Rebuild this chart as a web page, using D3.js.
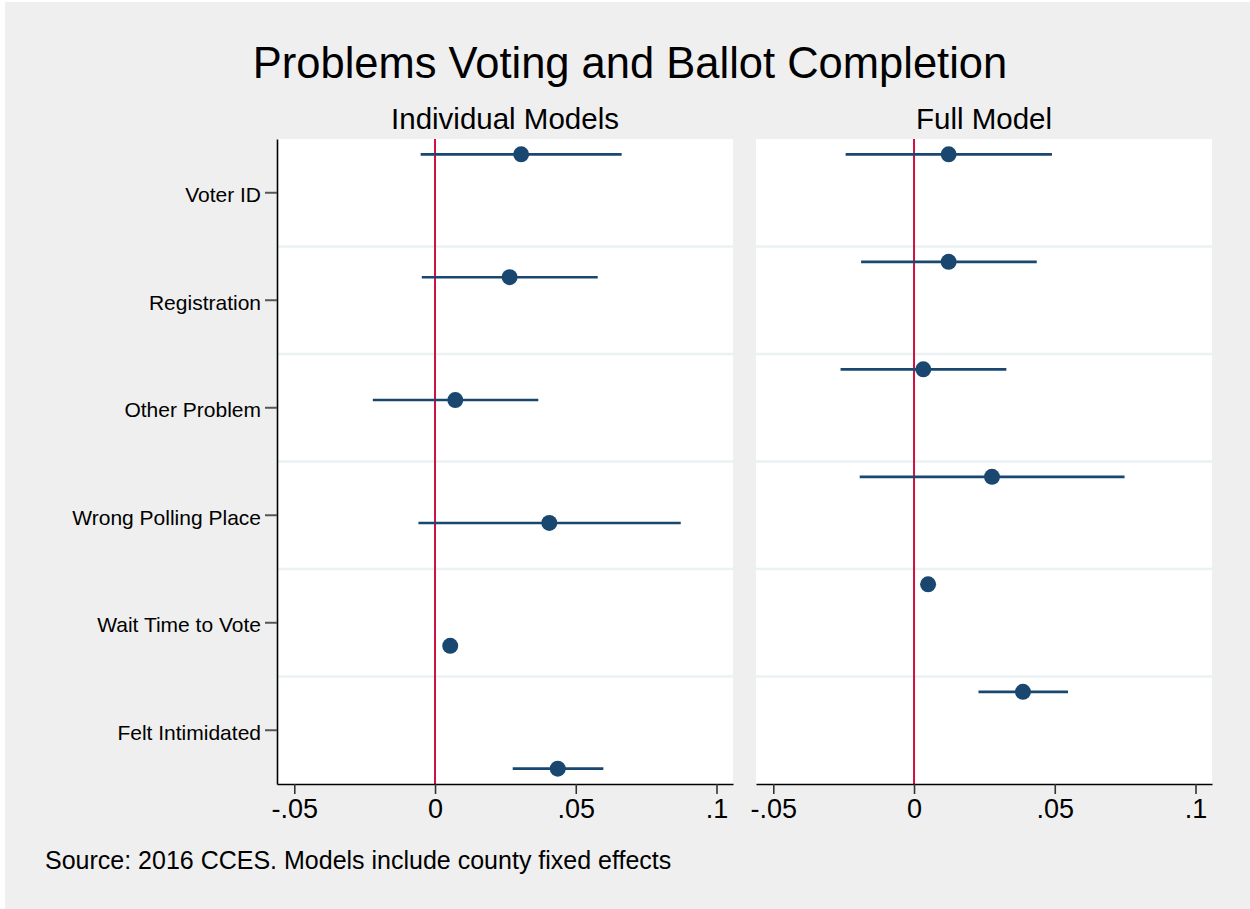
<!DOCTYPE html>
<html>
<head>
<meta charset="utf-8">
<script src="https://cdn.jsdelivr.net/npm/d3@7"></script>
<style>
  body { margin: 0; background: #fff; }
  text { font-family: "Liberation Sans", Arial, sans-serif; fill: #000; }
</style>
</head>
<body>
<svg id="chart" width="1250" height="909"></svg>
<script>
// data
const categories = ["Voter ID", "Registration", "Other Problem", "Wrong Polling Place", "Wait Time to Vote", "Felt Intimidated"];
const panelTitles = ["Individual Models", "Full Model"];
const xTicks = [-0.05, 0, 0.05, 0.1];

// individual models (one model per row, so each row has its own slot)
const indivCoef = [0.0306, 0.0265, 0.0072, 0.0406, 0.0054, 0.0436];
const indivLo   = [-0.0051, -0.0047, -0.0221, -0.0059, 0.0036, 0.0276];
const indivHi   = [0.0663, 0.0578, 0.0367, 0.0873, 0.0072, 0.0598];
const indivSlot = [0, 1, 2, 3, 4, 5];

// full model (single model, first slot)
const fullCoef = [0.0123, 0.0123, 0.0033, 0.0277, 0.0050, 0.0387];
const fullLo   = [-0.0243, -0.0188, -0.0261, -0.0193, 0.0033, 0.0229];
const fullHi   = [0.0490, 0.0436, 0.0328, 0.0748, 0.0067, 0.0547];
const fullSlot = [0, 0, 0, 0, 0, 0];

const navy = "#1a476f";
const red = "#d0103f";

const svg = d3.select("#chart");

// outer graph region
svg.append("rect")
    .attr("x", 5).attr("y", 2)
    .attr("width", 1245).attr("height", 907)
    .attr("fill", "#efefef");

svg.append("text")
    .attr("x", 630).attr("y", 78)
    .attr("text-anchor", "middle")
    .style("font-size", "43.5px")
    .text("Problems Voting and Ballot Completion");

svg.append("text")
    .attr("x", 45).attr("y", 869)
    .style("font-size", "25px")
    .text("Source: 2016 CCES. Models include county fixed effects");

const plotTop = 139, plotBottom = 784;

const y = d3.scaleBand()
    .domain(categories)
    .range([plotTop, plotBottom]);

const slot = d3.scalePoint()
    .domain(d3.range(6))
    .range([0, y.bandwidth()])
    .padding(1);

const panels = [
    { title: panelTitles[0], left: 277, right: 733, coef: indivCoef, lo: indivLo, hi: indivHi, slot: indivSlot, yAxis: true },
    { title: panelTitles[1], left: 756, right: 1212, coef: fullCoef, lo: fullLo, hi: fullHi, slot: fullSlot, yAxis: false }
];

const fmt = d => d === 0 ? "0" : String(d).replace("0.", ".");

panels.forEach(p => {
    const x = d3.scaleLinear()
        .domain([-0.05614, 0.10586])
        .range([p.left, p.right]);

    const g = svg.append("g");

    g.append("rect")
        .attr("x", p.left).attr("y", plotTop)
        .attr("width", p.right - p.left).attr("height", plotBottom - plotTop)
        .attr("fill", "#fff");

    // row separators
    g.selectAll(".sep")
        .data(categories.slice(1))
        .join("line")
        .attr("class", "sep")
        .attr("x1", p.left).attr("x2", p.right)
        .attr("y1", d => y(d)).attr("y2", d => y(d))
        .attr("stroke", "#eaf2f3")
        .attr("stroke-width", 2.5);

    g.append("text")
        .attr("x", (p.left + p.right) / 2).attr("y", 129)
        .attr("text-anchor", "middle")
        .style("font-size", "29.5px")
        .text(p.title);

    // zero reference line
    g.append("line")
        .attr("x1", x(0)).attr("x2", x(0))
        .attr("y1", plotTop).attr("y2", plotBottom)
        .attr("stroke", red)
        .attr("stroke-width", 2);

    const rows = categories.map((c, i) => ({
        cat: c, coef: p.coef[i], lo: p.lo[i], hi: p.hi[i], slot: p.slot[i]
    }));
    const yPos = d => y(d.cat) + slot(d.slot);

    g.selectAll(".ci")
        .data(rows)
        .join("line")
        .attr("class", "ci")
        .attr("x1", d => x(d.lo)).attr("x2", d => x(d.hi))
        .attr("y1", yPos).attr("y2", yPos)
        .attr("stroke", navy)
        .attr("stroke-width", 2.6);

    g.selectAll(".pt")
        .data(rows)
        .join("circle")
        .attr("class", "pt")
        .attr("cx", d => x(d.coef))
        .attr("cy", yPos)
        .attr("r", 8)
        .attr("fill", navy);

    // x axis
    const xAxis = g.append("g")
        .attr("transform", `translate(0,${plotBottom})`)
        .call(d3.axisBottom(x).tickValues(xTicks).tickFormat(fmt)
            .tickSize(10).tickSizeOuter(0).tickPadding(5));
    xAxis.select(".domain").attr("stroke", "#000").attr("stroke-width", 1.6);
    xAxis.selectAll(".tick line").attr("stroke", "#333").attr("stroke-width", 1.6);
    xAxis.selectAll(".tick text")
        .style("font-family", '"Liberation Sans", Arial, sans-serif')
        .style("font-size", "27px")
        .attr("fill", "#000");

    if (p.yAxis) {
        const yAxis = g.append("g")
            .attr("transform", `translate(${p.left},0)`)
            .call(d3.axisLeft(y).tickSize(12).tickSizeOuter(0).tickPadding(4));
        yAxis.select(".domain").attr("stroke", "#000").attr("stroke-width", 1.6);
        yAxis.selectAll(".tick line").attr("stroke", "#555").attr("stroke-width", 2);
        yAxis.selectAll(".tick text")
            .style("font-family", '"Liberation Sans", Arial, sans-serif')
            .style("font-size", "21px")
            .attr("dy", "0.45em")
            .attr("fill", "#111");
    }
});
</script>
</body>
</html>
